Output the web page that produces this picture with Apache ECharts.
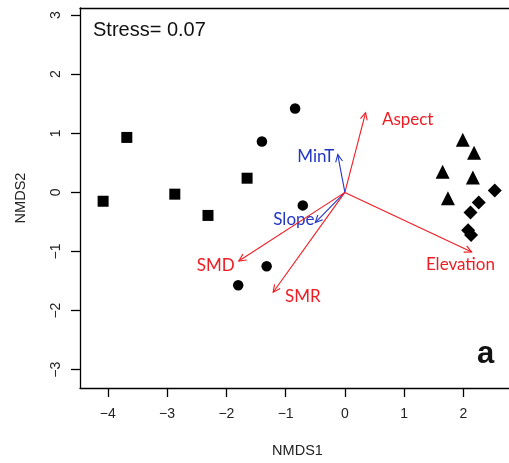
<!DOCTYPE html>
<html>
<head>
<meta charset="utf-8">
<script src="https://cdn.jsdelivr.net/npm/echarts@6/dist/echarts.min.js"></script>
<style>
  html, body { margin: 0; padding: 0; background: #fff; }
  #chart { width: 509px; height: 463px; }
</style>
</head>
<body>
<div id="chart"></div>
<script>
// site scores per group
var squares = [[-4.08, -0.15], [-3.68, 0.93], [-2.87, -0.03], [-2.31, -0.39], [-1.65, 0.24]]
var circles = [[-0.84, 1.42], [-1.40, 0.86], [-0.71, -0.22], [-1.32, -1.25], [-1.80, -1.57]]
var triangles = [[1.99, 0.89], [2.18, 0.67], [1.65, 0.35], [2.16, 0.25], [1.74, -0.10]]
var diamonds = [[2.53, 0.03], [2.26, -0.17], [2.12, -0.34], [2.08, -0.64], [2.13, -0.72]]

// env vectors
var vecNames = ['Aspect', 'MinT', 'Slope', 'Elevation', 'SMR', 'SMD']
var vecX = [0.35, -0.12, -0.50, 2.14, -1.21, -1.79]
var vecY = [1.35, 0.64, -0.51, -1.01, -1.69, -1.16]
var labX = [1.06, -0.49, -0.86, 1.95, -0.71, -2.18]
var labY = [1.23, 0.61, -0.46, -1.22, -1.77, -1.23]
var vecBlue = [false, true, true, false, false, false]

var xTicks = [-4, -3, -2, -1, 0, 1, 2]
var yTicks = [-3, -2, -1, 0, 1, 2, 3]

var RED = '#f01c22'
var BLUE = '#2236c4'

var vecData = vecNames.map(function (n, i) {
  return [vecX[i], vecY[i], labX[i], labY[i], n]
})

function minus (v) { return String(v).replace('-', '\u2212') }

var tickFont = { fontFamily: 'Liberation Sans', fontSize: 14, color: '#222' }
var nameFont = { fontFamily: 'Liberation Sans', fontSize: 14.5, color: '#222' }

var chart = echarts.init(document.getElementById('chart'))
chart.setOption({
  animation: false,
  grid: { left: 80, top: 8, bottom: 74, right: 0 },
  xAxis: [{
    type: 'value', min: -4.47, max: 2.77,
    name: 'NMDS1', nameLocation: 'middle', nameGap: 55,
    nameTextStyle: Object.assign({ padding: [0, 0, 0, 6] }, nameFont),
    splitLine: { show: false },
    axisLine: { show: true, onZero: false, lineStyle: { color: '#000', width: 1.3 } },
    axisTick: { show: true, length: 9, customValues: xTicks, lineStyle: { color: '#000', width: 1.3 } },
    axisLabel: Object.assign({ customValues: xTicks, margin: 19, formatter: minus }, tickFont)
  }, {
    type: 'value', min: -4.47, max: 2.77, position: 'top',
    splitLine: { show: false },
    axisLine: { show: true, onZero: false, lineStyle: { color: '#000', width: 1.3 } },
    axisTick: { show: false },
    axisLabel: { show: false }
  }],
  yAxis: {
    type: 'value', min: -3.31, max: 3.12,
    name: 'NMDS2', nameLocation: 'middle', nameGap: 52, nameRotate: 90,
    nameTextStyle: nameFont,
    splitLine: { show: false },
    axisLine: { show: true, onZero: false, lineStyle: { color: '#000', width: 1.3 } },
    axisTick: { show: true, length: 9, customValues: yTicks, lineStyle: { color: '#000', width: 1.3 } },
    axisLabel: Object.assign({ customValues: yTicks, rotate: 90, margin: 17, formatter: minus }, tickFont)
  },
  graphic: [
    { type: 'text', left: 93, top: 20, style: { text: 'Stress= 0.07', font: '20px "Liberation Sans"', fill: '#111' } },
    { type: 'text', left: 477, top: 339, style: { text: 'a', font: 'bold 31px "Liberation Sans"', fill: '#111' } }
  ],
  series: [
    { type: 'scatter', symbol: 'rect', symbolSize: 11, data: squares, itemStyle: { color: '#000', opacity: 1 } },
    { type: 'scatter', symbol: 'circle', symbolSize: 10.5, data: circles, itemStyle: { color: '#000', opacity: 1 } },
    { type: 'scatter', symbol: 'triangle', symbolSize: 14, data: triangles, itemStyle: { color: '#000', opacity: 1 } },
    { type: 'scatter', symbol: 'diamond', symbolSize: 14, data: diamonds, itemStyle: { color: '#000', opacity: 1 } },
    {
      type: 'custom',
      data: vecData,
      renderItem: function (params, api) {
        var i = params.dataIndex
        var o = api.coord([0, 0])
        var t = api.coord([api.value(0), api.value(1)])
        var l = api.coord([api.value(2), api.value(3)])
        var col = vecBlue[i] ? BLUE : RED
        var ang = Math.atan2(t[1] - o[1], t[0] - o[0])
        var h = 8, sp = 0.45
        var a1 = [t[0] - h * Math.cos(ang - sp), t[1] - h * Math.sin(ang - sp)]
        var a2 = [t[0] - h * Math.cos(ang + sp), t[1] - h * Math.sin(ang + sp)]
        return {
          type: 'group',
          children: [
            { type: 'line', shape: { x1: o[0], y1: o[1], x2: t[0], y2: t[1] }, style: { stroke: col, lineWidth: 1.1 } },
            { type: 'polyline', shape: { points: [a1, t, a2] }, style: { stroke: col, lineWidth: 1.1, fill: null } },
            {
              type: 'text', x: l[0], y: l[1],
              style: { text: api.value(4), fill: col, font: '17px Lato', align: 'center', verticalAlign: 'middle' }
            }
          ]
        }
      }
    }
  ]
})
</script>
</body>
</html>
